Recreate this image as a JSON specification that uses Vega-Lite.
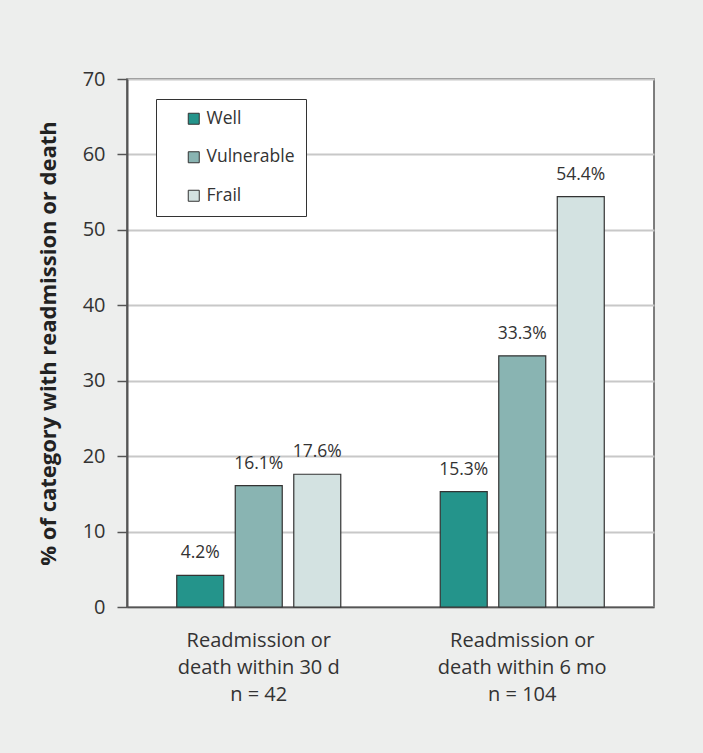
{
  "$schema": "https://vega.github.io/schema/vega-lite/v6.json",
  "width": 527,
  "height": 528,
  "autosize": {"type": "none"},
  "padding": {"left": 127, "top": 79, "right": 49, "bottom": 146},
  "background": "#edeeed",
  "config": {
    "font": "Open Sans",
    "view": {"fill": "white", "stroke": "#555555", "strokeWidth": 1.5}
  },
  "data": {
    "values": [
      {"outcome": "30 d", "category": "Well", "value": 4.2},
      {"outcome": "30 d", "category": "Vulnerable", "value": 16.1},
      {"outcome": "30 d", "category": "Frail", "value": 17.6},
      {"outcome": "6 mo", "category": "Well", "value": 15.3},
      {"outcome": "6 mo", "category": "Vulnerable", "value": 33.3},
      {"outcome": "6 mo", "category": "Frail", "value": 54.4}
    ]
  },
  "transform": [
    {"calculate": "format(datum.value, '.1f') + '%'", "as": "label"}
  ],
  "encoding": {
    "x": {
      "field": "outcome",
      "type": "nominal",
      "sort": ["30 d", "6 mo"],
      "scale": {"paddingInner": 0, "paddingOuter": 0},
      "axis": {
        "title": null,
        "labelAngle": 0,
        "ticks": false,
        "domainColor": "#555555",
        "domainWidth": 1.5,
        "labelFontSize": 20,
        "labelLineHeight": 27,
        "labelColor": "#333333",
        "labelPadding": 23,
        "labelBaseline": "top",
        "labelExpr": "datum.value == '30 d' ? ['Readmission or', 'death within 30 d', 'n = 42'] : ['Readmission or', 'death within 6 mo', 'n = 104']"
      }
    },
    "xOffset": {
      "field": "category",
      "type": "nominal",
      "sort": ["Well", "Vulnerable", "Frail"],
      "scale": {"paddingInner": 0.197, "paddingOuter": 0.85}
    },
    "y": {
      "field": "value",
      "type": "quantitative",
      "scale": {"domain": [0, 70], "nice": false},
      "axis": {
        "title": "% of category with readmission or death",
        "titleFontSize": 22,
        "titleFontWeight": "bold",
        "titleColor": "#222222",
        "titlePadding": 22,
        "values": [0, 10, 20, 30, 40, 50, 60, 70],
        "labelFontSize": 20,
        "labelColor": "#333333",
        "labelPadding": 12,
        "tickSize": 10,
        "tickColor": "#555555",
        "tickWidth": 1.5,
        "domainColor": "#555555",
        "domainWidth": 2,
        "grid": true,
        "gridColor": "#c8c8c8",
        "gridWidth": 2
      }
    }
  },
  "layer": [
    {
      "mark": {"type": "bar", "stroke": "#333333", "strokeWidth": 1.2},
      "encoding": {
        "color": {
          "field": "category",
          "type": "nominal",
          "sort": ["Well", "Vulnerable", "Frail"],
          "scale": {"domain": ["Well", "Vulnerable", "Frail"], "range": ["#24948b", "#89b4b2", "#d3e2e1"]},
          "legend": {
            "title": null,
            "orient": "none",
            "legendX": 29,
            "legendY": 20,
            "fillColor": "white",
            "strokeColor": "#333333",
            "padding": 11,
            "symbolType": "square",
            "symbolSize": 121,
            "symbolStrokeColor": "#333333",
            "symbolStrokeWidth": 1,
            "symbolOffset": 18,
            "labelFontSize": 17.5,
            "labelColor": "#333333",
            "labelOffset": 4,
            "rowPadding": 19.5
          }
        }
      }
    },
    {
      "mark": {"type": "text", "baseline": "alphabetic", "dy": -17, "fontSize": 17.5, "color": "#333333"},
      "encoding": {"text": {"field": "label"}}
    }
  ]
}
